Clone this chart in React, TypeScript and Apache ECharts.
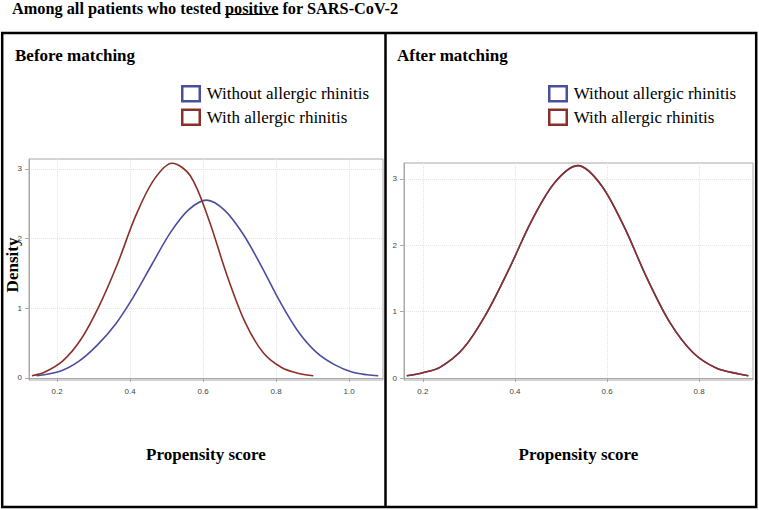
import React, { useEffect, useRef } from "react";
import * as echarts from "echarts";

const TITLE = "Among all patients who tested positive for SARS-CoV-2";
const TITLE_PREFIX = "Among all patients who tested ";
const UNDERLINED = "positive";
const PANEL_TITLES = ["Before matching", "After matching"];
const SERIES_NAMES = ["Without allergic rhinitis", "With allergic rhinitis"];
const X_NAME = "Propensity score";
const Y_NAME = "Density";
const X_TICKS_BEFORE = [0.2, 0.4, 0.6, 0.8, 1.0];
const X_TICKS_AFTER = [0.2, 0.4, 0.6, 0.8];
const Y_TICKS = [0, 1, 2, 3];

// Before matching
const beforeWithout: number[][] = [
  [0.144, 0.03], [0.21, 0.1], [0.26, 0.24], [0.31, 0.47], [0.36, 0.77],
  [0.41, 1.17], [0.46, 1.63], [0.51, 2.08], [0.56, 2.41], [0.61, 2.55],
  [0.66, 2.4], [0.71, 2.06], [0.76, 1.6], [0.81, 1.1], [0.86, 0.67],
  [0.91, 0.37], [0.96, 0.19], [1.01, 0.08], [1.05, 0.045], [1.08, 0.03],
];
const beforeWith: number[][] = [
  [0.131, 0.03], [0.165, 0.08], [0.215, 0.24], [0.265, 0.55], [0.315, 1.03],
  [0.365, 1.63], [0.415, 2.32], [0.465, 2.84], [0.515, 3.08], [0.565, 2.9],
  [0.615, 2.28], [0.665, 1.48], [0.715, 0.8], [0.765, 0.36], [0.815, 0.15],
  [0.865, 0.06], [0.902, 0.03],
];
// After matching (the two curves coincide)
const afterWithout: number[][] = [
  [0.165, 0.035], [0.2, 0.08], [0.237, 0.16], [0.287, 0.44], [0.337, 0.96],
  [0.387, 1.64], [0.437, 2.38], [0.487, 2.95], [0.537, 3.2], [0.587, 2.91],
  [0.637, 2.28], [0.687, 1.5], [0.737, 0.83], [0.787, 0.38], [0.837, 0.15],
  [0.887, 0.06], [0.907, 0.035],
];
const afterWith: number[][] = [
  [0.165, 0.035], [0.2, 0.08], [0.237, 0.16], [0.287, 0.44], [0.337, 0.96],
  [0.387, 1.64], [0.437, 2.38], [0.487, 2.95], [0.537, 3.2], [0.587, 2.91],
  [0.637, 2.28], [0.687, 1.5], [0.737, 0.83], [0.787, 0.38], [0.837, 0.15],
  [0.887, 0.06], [0.907, 0.035],
];

const BLUE = "#4a4e9e";
const RED = "#8a3029";
const SERIF = "'Liberation Serif', 'Times New Roman', serif";
const SANS = "'Liberation Sans', Arial, sans-serif";

function measure(text: string, font: string): number {
  const c = document.createElement("canvas").getContext("2d");
  if (!c) return text.length * 8;
  c.font = font;
  return c.measureText(text).width;
}

export default function App() {
  const ref = useRef<HTMLDivElement>(null);
  useEffect(() => {
    if (!ref.current) return;
    const chart = echarts.init(ref.current, null, { renderer: "svg" });
    const titleFont = `bold 16.3px ${SERIF}`;
    const tx = 12;
    const ux1 = tx + measure(TITLE_PREFIX, titleFont);
    const ux2 = ux1 + measure(UNDERLINED, titleFont);

    const xAxisCommon = (ticks: number[], min: number, max: number, gi: number) => ({
      type: "value" as const,
      gridIndex: gi,
      min,
      max,
      name: X_NAME,
      nameLocation: "middle" as const,
      nameGap: 66,
      nameTextStyle: { fontFamily: SERIF, fontWeight: "bold", fontSize: 17, color: "#000" },
      axisLine: { show: true, lineStyle: { color: "#a8a8a8", width: 1 } },
      axisTick: { show: true, length: 4, customValues: ticks, lineStyle: { color: "#a8a8a8" } },
      axisLabel: {
        customValues: ticks,
        margin: 7,
        fontFamily: SANS,
        fontSize: 8,
        color: "#444",
        formatter: (v: number) => v.toFixed(1),
      },
      splitLine: { show: true, lineStyle: { color: "#e4e4e4", type: "dotted", width: 1 } },
    });
    const yAxisCommon = (min: number, max: number, gi: number) => ({
      type: "value" as const,
      gridIndex: gi,
      min,
      max,
      axisLine: { show: true, lineStyle: { color: "#a8a8a8", width: 1 } },
      axisTick: { show: true, length: 4, customValues: Y_TICKS, lineStyle: { color: "#a8a8a8" } },
      axisLabel: {
        customValues: Y_TICKS,
        margin: 7,
        fontFamily: SANS,
        fontSize: 8,
        color: "#444",
        formatter: (v: number) => String(Math.round(v)),
      },
      splitLine: { show: true, lineStyle: { color: "#e4e4e4", type: "dotted", width: 1 } },
    });
    const lineSeries = (name: string, data: number[][], color: string, gi: number) => ({
      type: "line" as const,
      name,
      xAxisIndex: gi,
      yAxisIndex: gi,
      data,
      smooth: 0.33,
      showSymbol: false,
      symbol: "none",
      lineStyle: { color, width: 1.6 },
      itemStyle: { color },
      z: 3,
    });
    const legendCommon = (left: number) => ({
      left,
      top: 85,
      orient: "vertical" as const,
      itemWidth: 17.5,
      itemHeight: 15,
      itemGap: 6,
      selectedMode: false,
      padding: 0,
      textStyle: { fontFamily: SERIF, fontSize: 17, color: "#000", padding: [0, 0, 0, 2] },
      data: [
        { name: SERIES_NAMES[0], icon: "rect", itemStyle: { color: "#fff", borderColor: BLUE, borderWidth: 2.5 } },
        { name: SERIES_NAMES[1], icon: "rect", itemStyle: { color: "#fff", borderColor: RED, borderWidth: 2.5 } },
      ],
    });

    chart.setOption({
      animation: false,
      backgroundColor: "#fff",
      grid: [
        { left: 29, top: 159, width: 354, height: 221, show: true, borderColor: "#a8a8a8", borderWidth: 1, containLabel: false, outerBoundsMode: "none" },
        { left: 404, top: 163, width: 349, height: 217, show: true, borderColor: "#a8a8a8", borderWidth: 1, containLabel: false, outerBoundsMode: "none" },
      ],
      xAxis: [
        xAxisCommon(X_TICKS_BEFORE, 0.123, 1.093, 0),
        xAxisCommon(X_TICKS_AFTER, 0.159, 0.917, 1),
      ],
      yAxis: [yAxisCommon(-0.03, 3.14, 0), yAxisCommon(-0.03, 3.24, 1)],
      legend: [legendCommon(181), legendCommon(548)],
      series: [
        lineSeries(SERIES_NAMES[0], beforeWithout, BLUE, 0),
        lineSeries(SERIES_NAMES[1], beforeWith, RED, 0),
        lineSeries(SERIES_NAMES[0], afterWithout, BLUE, 1),
        lineSeries(SERIES_NAMES[1], afterWith, RED, 1),
      ],
      graphic: [
        {
          type: "text",
          x: tx,
          y: 8,
          style: { text: TITLE, font: titleFont, fill: "#000", verticalAlign: "middle", align: "left" },
        },
        {
          type: "line",
          shape: { x1: ux1, y1: 14.5, x2: ux2, y2: 14.5 },
          style: { stroke: "#000", lineWidth: 1 },
        },
        {
          type: "text",
          x: 12.5,
          y: 265,
          rotation: Math.PI / 2,
          style: { text: Y_NAME, font: `bold 17px ${SERIF}`, fill: "#000", align: "center", verticalAlign: "middle" },
          z: 5,
        },
        {
          type: "rect",
          shape: { x: 2.2, y: 33, width: 754, height: 474 },
          style: { stroke: "#000", lineWidth: 2.5, fill: "none" },
          z: 10,
        },
        {
          type: "line",
          shape: { x1: 385.5, y1: 33, x2: 385.5, y2: 507 },
          style: { stroke: "#000", lineWidth: 2.5 },
          z: 10,
        },
        {
          type: "text",
          x: 15,
          y: 55,
          style: { text: PANEL_TITLES[0], font: `bold 17px ${SERIF}`, fill: "#000", verticalAlign: "middle" },
        },
        {
          type: "text",
          x: 397,
          y: 55,
          style: { text: PANEL_TITLES[1], font: `bold 17px ${SERIF}`, fill: "#000", verticalAlign: "middle" },
        },
      ],
    });
    return () => chart.dispose();
  }, []);
  return (
    <div
      ref={ref}
      style={{ position: "absolute", left: 0, top: 0, width: 759, height: 510 }}
    />
  );
}
